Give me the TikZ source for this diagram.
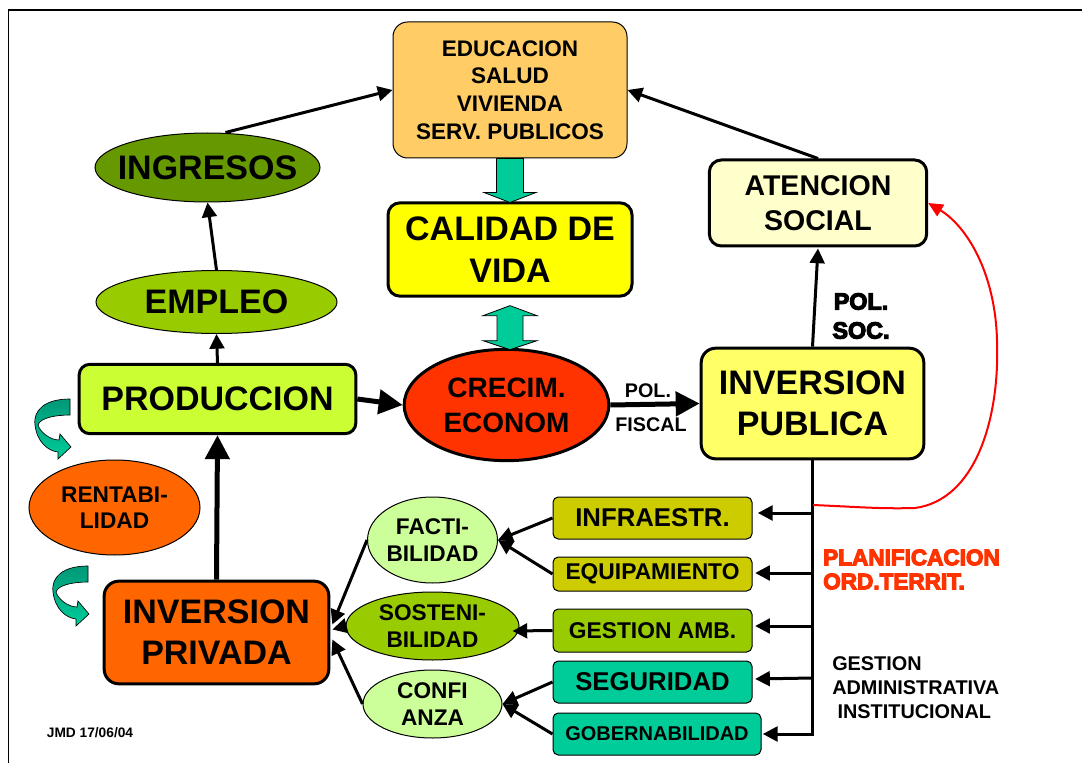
\documentclass[tikz,border=0pt]{standalone}
\usepackage{fontspec}
\setmainfont{Liberation Sans}
\newfontfamily\heavyfont{Liberation Sans Bold}[FakeBold=5]
\usetikzlibrary{shapes.geometric,arrows.meta,calc}
\definecolor{cEdu}{HTML}{FFCC66}
\definecolor{cCal}{HTML}{FFFF00}
\definecolor{cAte}{HTML}{FFFFCC}
\definecolor{cIng}{HTML}{669900}
\definecolor{cEmp}{HTML}{99CC00}
\definecolor{cPro}{HTML}{CCFF33}
\definecolor{cCre}{HTML}{FF3300}
\definecolor{cIpu}{HTML}{FFFF66}
\definecolor{cOra}{HTML}{FF6600}
\definecolor{cLig}{HTML}{CCFF99}
\definecolor{cOli}{HTML}{CCCC00}
\definecolor{cTeal}{HTML}{00CC99}
\definecolor{cTealD}{HTML}{009977}
\definecolor{cRedT}{HTML}{FF3300}
\tikzset{
  rbox/.style={draw, rectangle, inner sep=0pt, align=center, font=\bfseries},
  thinb/.style={line width=0.75pt},
  thickb/.style={line width=2.25pt},
  ell/.style={draw, ellipse, inner sep=0pt, align=center, font=\bfseries, line width=0.75pt},
  conn/.style={line width=2.25pt, -{Triangle[length=11pt,width=11pt]}},
  bigconn/.style={line width=3.75pt, -{Triangle[length=18pt,width=18pt]}},
  lbl/.style={inner sep=0pt, font=\bfseries},
  blockarrow/.style={draw=black, line width=0.6pt, fill=cTeal},
}
\newcommand\turnarrow{%
  \path[draw=black, line width=0.5pt, top color=cTealD, bottom color=cTeal]
    (70,399) .. controls (45,399) and (33,410) .. (35,425)
    .. controls (37,442) and (48,451) .. (58,452) -- (58,459) -- (71,447) -- (60,434) -- (59,440)
    .. controls (50,440) and (40,432) .. (38,425)
    .. controls (40,418) and (55,415) .. (70,415) -- cycle;}
\begin{document}
\begin{tikzpicture}[x=0.75pt,y=-0.75pt]
\useasboundingbox (0,0) rectangle (1082,763);
% frame
\draw[line width=0.8pt] (8.5,763) -- (8.5,10) -- (1082,10);

% main nodes
\node[rbox, thinb, rounded corners=11pt, fill=cEdu, minimum width=175.5pt, minimum height=102pt,
      font=\bfseries\fontsize{16.9pt}{20.8pt}\selectfont] (edu) at (510,90) {EDUCACION\\SALUD\\VIVIENDA\\SERV. PUBLICOS};
\node[rbox, thickb, rounded corners=9pt, fill=cCal, minimum width=183pt, minimum height=70pt,
      font=\bfseries\fontsize{25.5pt}{31.5pt}\selectfont] (cal) at (510,249.5) {CALIDAD DE\\VIDA};
\node[rbox, thickb, rounded corners=9pt, fill=cAte, minimum width=163pt, minimum height=64.5pt,
      font=\bfseries\fontsize{21.4pt}{26.3pt}\selectfont] (ate) at (818,203) {ATENCION\\SOCIAL};
\node[ell, fill=cIng, minimum width=168.75pt, minimum height=51.75pt,
      font=\bfseries\fontsize{25.5pt}{30pt}\selectfont] (ing) at (207.5,167.5) {\makebox[0pt][c]{INGRESOS}};
\node[ell, fill=cEmp, minimum width=180.75pt, minimum height=47.25pt,
      font=\bfseries\fontsize{25.5pt}{30pt}\selectfont] (emp) at (216.5,302) {\makebox[0pt][c]{EMPLEO}};
\node[rbox, thickb, rounded corners=8pt, fill=cPro, minimum width=207.5pt, minimum height=52pt,
      font=\bfseries\fontsize{25.5pt}{30pt}\selectfont] (pro) at (217.5,399) {PRODUCCION};
\node[ell, thickb, fill=cCre, minimum width=153.5pt, minimum height=83.5pt,
      font=\bfseries\fontsize{21pt}{26.3pt}\selectfont] (cre) at (506.5,405) {CRECIM.\\ECONOM};
\node[rbox, thickb, rounded corners=11pt, fill=cIpu, minimum width=167pt, minimum height=83pt,
      font=\bfseries\fontsize{25.5pt}{30.8pt}\selectfont] (ipu) at (812.5,403.5) {INVERSION\\PUBLICA};
\node[ell, fill=cOra, minimum width=128.25pt, minimum height=71.25pt,
      font=\bfseries\fontsize{17pt}{19.5pt}\selectfont] (ren) at (114.5,507.5) {RENTABI-\\LIDAD};
\node[rbox, thickb, rounded corners=11pt, fill=cOra, minimum width=168.5pt, minimum height=77pt,
      font=\bfseries\fontsize{25.5pt}{30.8pt}\selectfont] (ipr) at (216.5,632.5) {INVERSION\\PRIVADA};

% middle ellipses
\node[ell, fill=cLig, minimum width=96.75pt, minimum height=64.5pt,
      font=\bfseries\fontsize{17pt}{20pt}\selectfont] (fac) at (432.5,540) {FACTI-\\BILIDAD};
\node[ell, fill=cEmp, minimum width=129.75pt, minimum height=51pt,
      font=\bfseries\fontsize{17pt}{20pt}\selectfont] (sos) at (432.5,626) {SOSTENI-\\BILIDAD};
\node[ell, fill=cLig, minimum width=104.25pt, minimum height=51pt,
      font=\bfseries\fontsize{17pt}{20pt}\selectfont] (con) at (432.5,704) {CONFI\\ANZA};

% small boxes
\node[rbox, thinb, rounded corners=4pt, fill=cOli, minimum width=149.25pt, minimum height=31.5pt,
      font=\bfseries\fontsize{19.3pt}{22pt}\selectfont] (inf) at (652.5,518) {INFRAESTR.};
\node[rbox, thinb, rounded corners=4pt, fill=cOli, minimum width=149.25pt, minimum height=25.5pt,
      font=\bfseries\fontsize{17.1pt}{20pt}\selectfont] (equ) at (652.5,574) {EQUIPAMIENTO};
\node[rbox, thinb, rounded corners=4pt, fill=cEmp, minimum width=149.25pt, minimum height=32.25pt,
      font=\bfseries\fontsize{17.1pt}{20pt}\selectfont] (gam) at (652.5,630.5) {GESTION AMB.};
\node[rbox, thinb, rounded corners=4pt, fill=cTeal, minimum width=149.25pt, minimum height=31.5pt,
      font=\bfseries\fontsize{19.3pt}{22pt}\selectfont] (seg) at (652.5,682) {SEGURIDAD};
\node[rbox, thinb, rounded corners=4pt, fill=cTeal, minimum width=156pt, minimum height=31.5pt,
      font=\bfseries\fontsize{15pt}{18pt}\selectfont] (gob) at (657,734) {GOBERNABILIDAD};

% block arrows
\path[blockarrow] ($(edu.south)+(-13.5,0)$) -- ($(edu.south)+(13.5,0)$) -- ($(edu.south)+(13.5,34)$)
   -- ($(edu.south)+(26,34)$) -- ($(edu.south)+(0,44)$) -- ($(edu.south)+(-26,34)$)
   -- ($(edu.south)+(-13.5,34)$) -- cycle;
\path[blockarrow] ($(cal.south)+(0,8)$) -- ($(cal.south)+(27,18)$) -- ($(cal.south)+(13,18)$)
   -- ($(cal.south)+(13,43)$) -- ($(cal.south)+(27,43)$) -- ($(cal.south)+(0,52)$)
   -- ($(cal.south)+(-27,43)$) -- ($(cal.south)+(-13,43)$) -- ($(cal.south)+(-13,18)$)
   -- ($(cal.south)+(-27,18)$) -- cycle;

% connectors
\draw[conn] ($(ing.north)+(18,0)$) -- (edu.west);
\draw[conn] (ate.north) -- (edu.east);
\draw[conn] (emp.north) -- (ing.south);
\draw[conn] (pro.north) -- (emp.south);
\draw[bigconn] (ipr.north) -- (pro.south);
\draw[bigconn] (pro.east) -- (cre.west);
\draw[bigconn] (cre.east) -- (ipu.west);
\draw[conn] (ipu.north) -- ($(ate.south)+(0,1)$);

% trunk from inversion publica
\coordinate (tI) at (813,513);
\coordinate (tE) at (813,573);
\coordinate (tG) at (813,626);
\coordinate (tS) at (813,678);
\coordinate (r0) at (813,505);
\draw[conn, shorten >=1pt] (ipu.south) |- (gob.east);
\draw[conn, shorten >=4pt] (tI) -- (tI -| inf.east);
\draw[conn, shorten >=2pt] (tE) -- (tE -| equ.east);
\draw[conn, shorten >=2pt] (tG) -- (tG -| gam.east);
\draw[conn, shorten >=2pt] (tS) -- ($(tS -| seg.east)+(0,1)$);

% red curve
\draw[red, line width=1.5pt, -{Triangle[length=11pt,width=10pt]}] (r0)
   .. controls (860,507) and (880,509) .. (915,508)
   .. controls (975,500) and (1000,420) .. (997,340)
   .. controls (995,270) and (965,225) .. (ate.east);

% boxes to ellipses
\draw[conn] (inf.west) -- (fac.east);
\draw[conn] (equ.west) -- (fac.east);
\draw[conn] (gam.west) -- ($(sos.east)+(-7,5)$);
\draw[conn] (seg.west) -- (con.east);
\draw[conn] (gob.west) -- (con.east);

% ellipses to inversion privada
\draw[conn] (fac.west) -- ($(ipr.east)+(2,-8)$);
\draw[conn] (sos.west) -- ($(ipr.east)+(2,-3)$);
\draw[conn] (con.west) -- ($(ipr.east)+(2,7)$);

% curved teal arrows
\turnarrow
\begin{scope}[shift={(18,167)}]
\turnarrow
\end{scope}

% labels
\node[lbl, font=\bfseries\fontsize{14.8pt}{17pt}\selectfont] (pol) at (648,391) {POL.};
\node[lbl, font=\bfseries\fontsize{14.8pt}{17pt}\selectfont] (fis) at (651,425) {FISCAL};
\node[lbl, align=center, font=\heavyfont\fontsize{17.5pt}{21.75pt}\selectfont] (psoc) at (861,316) {POL.\\SOC.};
\node[lbl, anchor=west, align=left, text=cRedT, font=\heavyfont\fontsize{16.9pt}{18pt}\selectfont] (plan) at (823,569.5) {PLANIFICACION\\ORD.TERRIT.};
\node[lbl, anchor=west, align=left, font=\bfseries\fontsize{14.9pt}{18pt}\selectfont] (gadm) at (832,688) {GESTION\\ADMINISTRATIVA\\\hspace*{4pt}INSTITUCIONAL};
\node[lbl, font=\bfseries\fontsize{10.3pt}{12pt}\selectfont] (jmd) at (90,733) {JMD 17/06/04};
\end{tikzpicture}
\end{document}
